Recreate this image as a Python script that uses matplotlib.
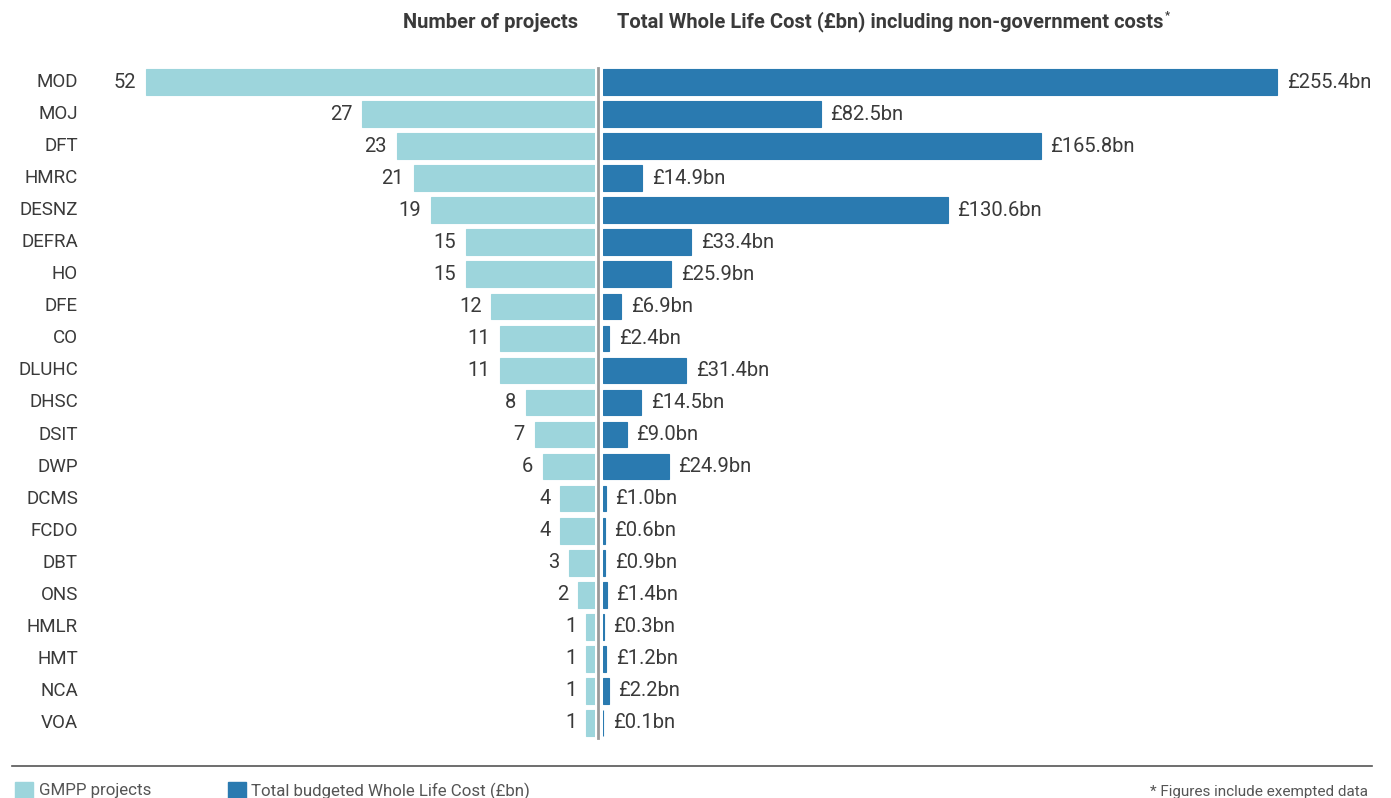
import matplotlib
matplotlib.use("Agg")
import matplotlib.pyplot as plt
from matplotlib.patches import Rectangle
from matplotlib.lines import Line2D
from matplotlib.transforms import blended_transform_factory

departments = ["MOD", "MOJ", "DFT", "HMRC", "DESNZ", "DEFRA", "HO", "DFE", "CO", "DLUHC",
               "DHSC", "DSIT", "DWP", "DCMS", "FCDO", "DBT", "ONS", "HMLR", "HMT", "NCA", "VOA"]
projects = [52, 27, 23, 21, 19, 15, 15, 12, 11, 11, 8, 7, 6, 4, 4, 3, 2, 1, 1, 1, 1]
cost_bn = [255.4, 82.5, 165.8, 14.9, 130.6, 33.4, 25.9, 6.9, 2.4, 31.4,
           14.5, 9.0, 24.9, 1.0, 0.6, 0.9, 1.4, 0.3, 1.2, 2.2, 0.1]

LIGHT = "#9dd5dc"
DARK = "#2a7ab0"
TXT = "#3a3a3a"
plt.rcParams["font.family"] = ["Roboto", "DejaVu Sans"]

W, H = 1391, 798
fig = plt.figure(figsize=(W / 100, H / 100), dpi=100)

def fx(px):
    return px / W

def fy(py):
    return 1 - py / H

top, bot = 66, 739
axl = fig.add_axes([fx(100), fy(bot), fx(595 - 100), (bot - top) / H])
axr = fig.add_axes([fx(603), fy(bot), fx(1330 - 603), (bot - top) / H])

y = list(range(len(departments)))
axl.barh(y, projects, height=0.8, color=LIGHT, edgecolor=LIGHT, linewidth=0.8)
axr.barh(y, cost_bn, height=0.8, color=DARK, edgecolor=DARK, linewidth=0.8)

axl.set_xlim(495 / 8.63, 0)
axr.set_xlim(0, 727 / 2.64)
for ax in (axl, axr):
    ax.set_ylim(len(departments) - 0.5, -0.5)
    ax.axis("off")

for i, v in enumerate(projects):
    axl.annotate(str(v), (v, i), xytext=(-7, 0), textcoords="offset points",
                 ha="right", va="center", fontsize=14.5, color=TXT)
for i, v in enumerate(cost_bn):
    axr.annotate(f"£{v:.1f}bn", (v, i), xytext=(7, 0), textcoords="offset points",
                 ha="left", va="center", fontsize=14.5, color=TXT)
lab_tr = blended_transform_factory(fig.transFigure, axl.transData)
for i, d in enumerate(departments):
    axl.text(fx(78), i, d, transform=lab_tr, ha="right", va="center",
             fontsize=13.5, color=TXT)

# centre divider
fig.add_artist(Line2D([fx(598), fx(598)], [fy(68), fy(738)], color="#9a9a9a", lw=2))

# headers
fig.text(fx(578), fy(22), "Number of projects", ha="right", va="center",
         fontsize=14.5, fontweight="bold", color=TXT)
t = fig.text(fx(617), fy(22), "Total Whole Life Cost (£bn) including non-government costs",
             ha="left", va="center", fontsize=14.5, fontweight="bold", color=TXT)
fig.canvas.draw()
bb = t.get_window_extent()
fig.text(bb.x1 / W + 0.001, fy(15), "*", ha="left", va="center", fontsize=8,
         fontweight="bold", color=TXT)

# bottom rule and legend
fig.add_artist(Line2D([fx(12), fx(1372)], [fy(766), fy(766)], color="#555555", lw=1.2))
fig.add_artist(Rectangle((fx(15), fy(800)), fx(18), 18 / H, color=LIGHT))
fig.text(fx(39), fy(791), "GMPP projects", ha="left", va="center", fontsize=12.2, color="#555555")
fig.add_artist(Rectangle((fx(228), fy(800)), fx(18), 18 / H, color=DARK))
fig.text(fx(251), fy(791), "Total budgeted Whole Life Cost (£bn)", ha="left", va="center",
         fontsize=12.2, color="#555555")
fig.text(fx(1368), fy(792), "* Figures include exempted data", ha="right", va="center",
         fontsize=11, color="#555555")

fig.savefig("out.png", dpi=100)
